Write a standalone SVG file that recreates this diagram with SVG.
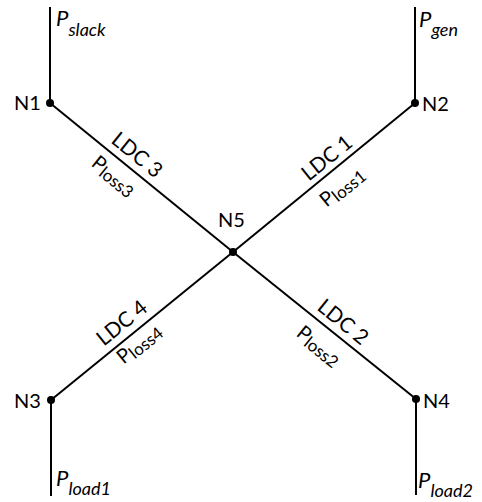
<svg xmlns="http://www.w3.org/2000/svg" width="482" height="502" viewBox="0 0 482 502">
  <style>
    .wire { stroke: #000; stroke-width: 2; fill: none; }
    .dot { fill: #000; }
    .lbl { font-family: Lato, "Open Sans", sans-serif; font-size: 20px; fill: #000; }
    .pw { font-family: Lato, "Open Sans", sans-serif; font-size: 22px; font-style: italic; fill: #000; }
    .sub { font-size: 18px; }
    .ldc { font-family: Lato, "Open Sans", sans-serif; font-size: 21px; fill: #000; text-anchor: middle; }
    .loss { font-family: Lato, "Open Sans", sans-serif; font-size: 20px; fill: #000; text-anchor: middle; }
    .lsub { font-size: 17px; }
  </style>

  <!-- connectors: feeders and the four lines meeting at N5 -->
  <g id="connectors">
    <line class="wire" x1="50" y1="7" x2="50" y2="103"/>
    <line class="wire" x1="415" y1="7" x2="415" y2="103"/>
    <line class="wire" x1="51" y1="400" x2="51" y2="496"/>
    <line class="wire" x1="416" y1="399" x2="416" y2="495"/>
    <line class="wire" x1="50" y1="103" x2="233" y2="252"/>
    <line class="wire" x1="233" y1="252" x2="415" y2="103"/>
    <line class="wire" x1="233" y1="252" x2="51" y2="400"/>
    <line class="wire" x1="233" y1="252" x2="416" y2="399"/>
  </g>

  <g id="N1">
    <circle class="dot" cx="50" cy="103" r="4"/>
    <text class="lbl" x="14" y="110">N1</text>
    <text class="pw" x="56" y="26">P<tspan class="sub" dy="10">slack</tspan></text>
  </g>
  <g id="N2">
    <circle class="dot" cx="415" cy="103" r="4"/>
    <text class="lbl" x="422" y="111">N2</text>
    <text class="pw" x="419" y="27">P<tspan class="sub" dy="9">gen</tspan></text>
  </g>
  <g id="N3">
    <circle class="dot" cx="51" cy="400" r="4"/>
    <text class="lbl" x="14" y="408">N3</text>
    <text class="pw" x="56" y="486">P<tspan class="sub" dy="9">load1</tspan></text>
  </g>
  <g id="N4">
    <circle class="dot" cx="416" cy="399" r="4"/>
    <text class="lbl" x="423" y="408">N4</text>
    <text class="pw" x="418" y="488">P<tspan class="sub" dy="9">load2</tspan></text>
  </g>
  <g id="N5">
    <circle class="dot" cx="233" cy="252" r="4"/>
    <text class="lbl" x="218" y="227">N5</text>
  </g>

  <!-- line labels -->
  <g id="LDC3">
    <text class="ldc" transform="translate(137,155) rotate(39)" y="7">LDC 3</text>
    <text class="loss" transform="translate(113,177) rotate(39)" y="5">P<tspan class="lsub" dy="3">loss3</tspan></text>
  </g>
  <g id="LDC1">
    <text class="ldc" transform="translate(327,158) rotate(-39)" y="7">LDC 1</text>
    <text class="loss" transform="translate(343,188) rotate(-39)" y="5">P<tspan class="lsub" dy="3">loss1</tspan></text>
  </g>
  <g id="LDC4">
    <text class="ldc" transform="translate(122,323) rotate(-39)" y="7">LDC 4</text>
    <text class="loss" transform="translate(140,345) rotate(-39)" y="5">P<tspan class="lsub" dy="3">loss4</tspan></text>
  </g>
  <g id="LDC2">
    <text class="ldc" transform="translate(343,322) rotate(39)" y="7">LDC 2</text>
    <text class="loss" transform="translate(318,347) rotate(39)" y="5">P<tspan class="lsub" dy="3">loss2</tspan></text>
  </g>
</svg>
